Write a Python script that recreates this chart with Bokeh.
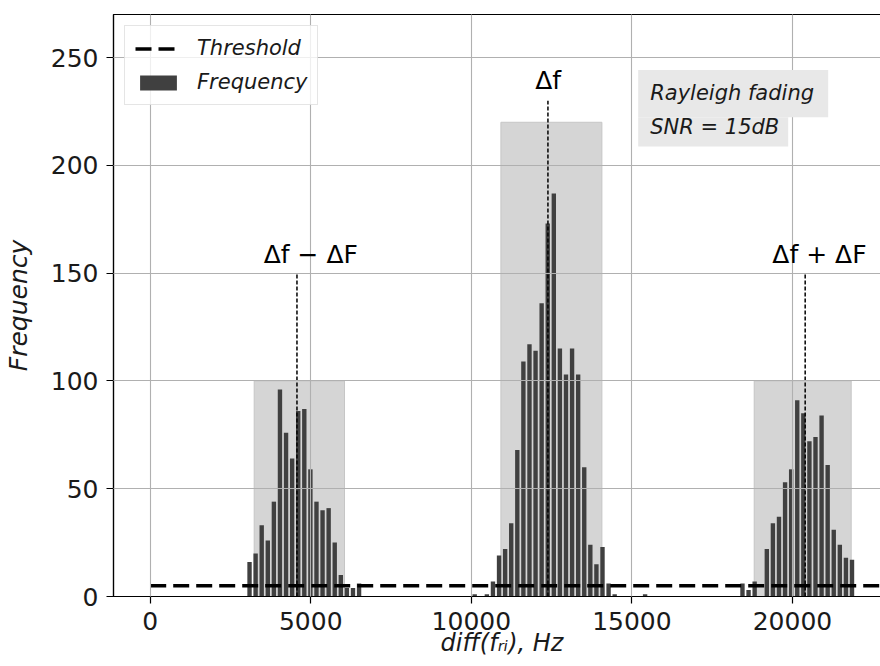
from bokeh.plotting import figure
from bokeh.models import Range1d, Legend, LegendItem, Label, BoxAnnotation, FixedTicker
from bokeh.embed import file_html
from bokeh.resources import INLINE

# ---- data ----
bin_first_center = 3093.0      # Hz, centre of the first histogram bin
bin_width = 189.5              # Hz
# histogram counts, by bin index
cluster1_start = 0
cluster1_counts = [16, 20, 33, 26, 44, 96, 76, 64, 86, 87, 59, 44, 40, 41, 25, 10, 4, 4, 6]
cluster2_start = 40
cluster2_counts = [7, 19, 22, 34, 68, 109, 117, 114, 136, 173, 187, 115, 103, 115, 103, 60, 24, 15, 23, 6]
cluster3_start = 81
cluster3_counts = [6, 3, 7, 0, 22, 34, 37, 53, 59, 91, 85, 72, 74, 84, 61, 31, 24, 18, 17]
sparse_bins = [37, 39, 60, 65]
sparse_counts = [1, 1, 1, 1]

threshold_value = 5
threshold_x = [0, 23000]

region_left = [3238, 10920, 18808]
region_right = [6050, 14065, 21828]
region_top = [100, 220, 100]

marker_x = [4570, 12385, 20395]          # Δf−ΔF, Δf, Δf+ΔF
marker_top = [150, 230, 150]
marker_labels = ["Δf − ΔF", "Δf", "Δf + ΔF"]
marker_label_x = [5000, 12393, 20840]
marker_label_y = [158.7, 239.2, 158.7]

x_ticks = [0, 5000, 10000, 15000, 20000]
y_ticks = [0, 50, 100, 150, 200, 250]

# ---- build bins ----
idx, cnt = [], []
for start, counts in [(cluster1_start, cluster1_counts), (cluster2_start, cluster2_counts),
                      (cluster3_start, cluster3_counts)]:
    for i, c in enumerate(counts):
        idx.append(start + i)
        cnt.append(c)
idx += sparse_bins
cnt += sparse_counts
centers = [bin_first_center + k * bin_width for k in idx]

FONT = "DejaVu Sans"
TXT = "#1a1a1a"

# the reference figure is cropped on the right by the window
p = figure(width=890, height=666, output_backend="svg", toolbar_location=None,
           x_range=Range1d(-1143, 23052), y_range=Range1d(0, 270),
           min_border_left=113, min_border_right=0, min_border_top=14, min_border_bottom=70)
p.background_fill_color = "white"
p.border_fill_color = "white"
p.outline_line_color = "black"
p.outline_line_width = 1.2

# highlighted regions
p.quad(left=region_left, right=region_right, bottom=0, top=region_top,
       fill_color="#d5d5d5", line_color="#c6c6c6", line_width=1)

bars = p.vbar(x=centers, top=cnt, width=bin_width * 0.72, fill_color="#404040", line_color=None)

thr = p.line(x=threshold_x, y=[threshold_value] * len(threshold_x), line_color="black",
             line_width=3.5, line_dash="16 7")

p.segment(x0=marker_x, y0=[0] * 3, x1=marker_x, y1=marker_top, line_color="black",
          line_width=1.5, line_dash="4 2")

for t, x, y in zip(marker_labels, marker_label_x, marker_label_y):
    p.add_layout(Label(x=x, y=y, text=t, text_font=FONT, text_font_size="25px",
                       text_align="center", text_baseline="alphabetic", text_color="black"))

# annotation box
p.add_layout(BoxAnnotation(left=15195, right=21112, bottom=222.3, top=244.2,
                           fill_color="#e8e8e8", fill_alpha=1, line_color=None))
p.add_layout(BoxAnnotation(left=15195, right=19866, bottom=208.8, top=222.3,
                           fill_color="#e8e8e8", fill_alpha=1, line_color=None))
p.add_layout(Label(x=15569, y=233.8, text="Rayleigh fading", text_font=FONT,
                   text_font_style="italic", text_font_size="21px", text_baseline="alphabetic",
                   text_color=TXT))
p.add_layout(Label(x=15569, y=217.6, text="SNR = 15dB", text_font=FONT,
                   text_font_style="italic", text_font_size="21px", text_baseline="alphabetic",
                   text_color=TXT))

# axes
for ax in (p.xaxis[0], p.yaxis[0]):
    ax.axis_line_color = "black"
    ax.axis_line_width = 1.2
    ax.major_tick_line_color = "black"
    ax.major_tick_line_width = 1.2
    ax.major_tick_out = 7
    ax.major_tick_in = 0
    ax.minor_tick_line_color = None
    ax.major_label_text_font = FONT
    ax.major_label_text_font_size = "25px"
    ax.major_label_text_color = TXT
    ax.major_label_standoff = 8
    ax.axis_label_text_font = FONT
    ax.axis_label_text_font_style = "italic"
    ax.axis_label_text_color = TXT
p.xaxis.ticker = FixedTicker(ticks=x_ticks)
p.yaxis.ticker = FixedTicker(ticks=y_ticks)
p.yaxis.axis_label = "Frequency"
p.yaxis.axis_label_text_font_size = "25px"
p.yaxis.axis_label_standoff = 15
p.xaxis.axis_label = "diff(fᵣᵢ), Hz"
p.xaxis.axis_label_text_font_size = "24px"
p.xaxis.axis_label_standoff = -4

# grid
for g in (p.xgrid[0], p.ygrid[0]):
    g.grid_line_color = "#b0b0b0"
    g.grid_line_width = 1.1
    g.level = "guide"
p.xgrid.ticker = FixedTicker(ticks=x_ticks)
p.ygrid.ticker = FixedTicker(ticks=y_ticks)

legend = Legend(items=[LegendItem(label="Threshold", renderers=[thr]),
                       LegendItem(label="Frequency", renderers=[bars])],
                location="top_left", margin=11, padding=10, spacing=10,
                glyph_width=46, glyph_height=19, label_standoff=16,
                label_text_font=FONT, label_text_font_style="italic",
                label_text_font_size="21px", label_text_color=TXT,
                border_line_color="#cccccc", border_line_width=1,
                background_fill_color="white", background_fill_alpha=0.8)
p.add_layout(legend)

open("out.html", "w").write(file_html(p, INLINE, title="Histogram"))
